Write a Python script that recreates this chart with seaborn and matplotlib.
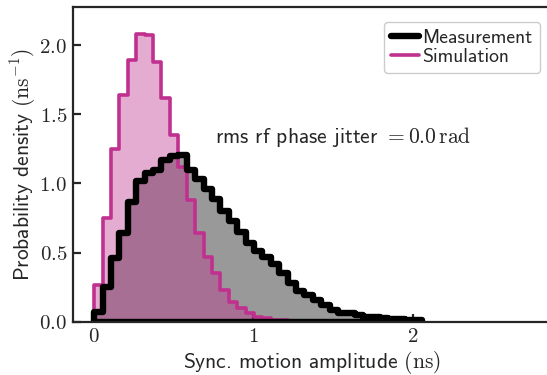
import numpy as np
import pandas as pd
import matplotlib
matplotlib.use('Agg')
import matplotlib.pyplot as plt
from matplotlib.lines import Line2D
from matplotlib.ticker import FuncFormatter
import seaborn as sns

# histogram bin edges (ns), common to both series
bin_edges = np.linspace(0, 2.059, 40)

# probability density per bin (ns^-1)
measurement = [0.07, 0.25, 0.46, 0.64, 0.865, 1.02, 1.075, 1.10, 1.17, 1.195,
               1.205, 1.10, 1.035, 0.96, 0.89, 0.80, 0.73, 0.65, 0.57, 0.51,
               0.47, 0.42, 0.35, 0.28, 0.22, 0.19, 0.155, 0.12, 0.085, 0.06,
               0.065, 0.048, 0.036, 0.034, 0.028, 0.02, 0.018, 0.012, 0.01]
simulation = [0.265, 0.75, 1.25, 1.64, 1.89, 2.08, 2.07, 1.875, 1.615, 1.35,
              1.12, 0.88, 0.64, 0.47, 0.35, 0.23, 0.145, 0.097, 0.06, 0.036,
              0.025, 0.015, 0.01, 0.008, 0.006, 0.005, 0.004, 0.003, 0.002,
              0.002, 0.001, 0.001, 0.001]

labels = ['Measurement', 'Simulation']
jitter_text = r'rms rf phase jitter $= 0.0\,\mathrm{rad}$'

sns.set_style('ticks')
plt.rcParams['font.family'] = ['cmss10', 'DejaVu Sans']
plt.rcParams['mathtext.fontset'] = 'cm'
plt.rcParams['axes.unicode_minus'] = False

MAGENTA = '#c0308f'

fig = plt.figure(figsize=(5.47, 3.75), dpi=100)
ax = fig.add_axes([0.133, 0.142, 0.876, 0.8385])


def hist(vals, **kw):
    n = len(vals)
    edges = bin_edges[:n + 1]
    df = pd.DataFrame({'amp': (edges[:-1] + edges[1:]) / 2, 'dens': vals})
    sns.histplot(data=df, x='amp', weights='dens', bins=list(edges),
                 element='step', stat='count', ax=ax, **kw)


# fills first, outlines on top
hist(measurement, fill=True, color='black', alpha=0.4, linewidth=0)
hist(simulation, fill=True, color=MAGENTA, alpha=0.4, linewidth=0)
hist(simulation, fill=True, color=MAGENTA, facecolor='none',
     edgecolor=MAGENTA, linewidth=2.6)
hist(measurement, fill=True, color='black', facecolor='none',
     edgecolor='black', linewidth=4.6)

ax.set_xlim(-0.135, 2.875)
ax.set_ylim(0, 2.273)
ax.set_xticks([0, 1, 2])
ax.set_yticks([0, 0.5, 1.0, 1.5, 2.0])
ax.xaxis.set_major_formatter(FuncFormatter(lambda v, p: f'${v:.0f}$'))
ax.yaxis.set_major_formatter(FuncFormatter(lambda v, p: f'${v:.1f}$'))
ax.tick_params(direction='in', length=6, width=1.6, labelsize=15, pad=4)
for s in ['left', 'bottom', 'top']:
    ax.spines[s].set_linewidth(1.6)
ax.spines['right'].set_visible(False)

ax.set_xlabel(r'Sync. motion amplitude $(\mathrm{ns})$', fontsize=15.5,
              labelpad=2)
ax.set_ylabel(r'Probability density $(\mathrm{ns}^{-1})$', fontsize=15.5,
              labelpad=1)

ax.text(0.758, 1.338, jitter_text, fontsize=15.5, ha='left', va='center')

handles = [Line2D([], [], color='black', lw=4.6),
           Line2D([], [], color=MAGENTA, lw=2.6)]
ax.legend(handles, labels, loc='upper right', bbox_to_anchor=(0.995, 0.985),
          fontsize=14.2, handlelength=1.4, handletextpad=0.2, labelspacing=0.05,
          borderpad=0.35, frameon=True, fancybox=True, edgecolor='#cccccc',
          framealpha=1)

fig.savefig('out.png', dpi=100)
